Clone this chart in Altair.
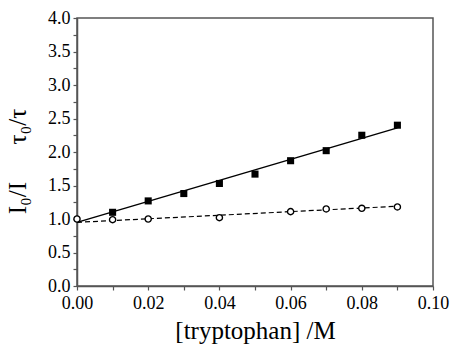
import altair as alt
import pandas as pd

# data
conc_tau = [0.01, 0.02, 0.03, 0.04, 0.05, 0.06, 0.07, 0.08, 0.09]
tau_ratio = [1.10, 1.27, 1.38, 1.53, 1.67, 1.87, 2.02, 2.25, 2.40]
conc_I = [0.00, 0.01, 0.02, 0.04, 0.06, 0.07, 0.08, 0.09]
I_ratio = [1.00, 0.99, 1.00, 1.02, 1.11, 1.15, 1.16, 1.18]
fit_x = [0.0, 0.09]
fit_tau = [0.95, 2.36]
fit_I = [0.95, 1.19]
x_ticks = [round(i * 0.01, 2) for i in range(11)]
y_ticks = [i * 0.25 for i in range(17)]

sq = pd.DataFrame({"x": conc_tau, "y": tau_ratio})
ci = pd.DataFrame({"x": conc_I, "y": I_ratio})
ft = pd.DataFrame({"x": fit_x, "y": fit_tau})
fi = pd.DataFrame({"x": fit_x, "y": fit_I})

FONT = "Liberation Serif"
AX = "#555555"

common = dict(
    grid=False,
    labelFlush=False,
    labelFont=FONT,
    labelFontSize=18,
    labelColor="black",
    titleFont=FONT,
    titleFontSize=25,
    titleFontWeight="normal",
    titleColor="black",
    domainColor=AX,
    domainWidth=1.5,
    tickColor=AX,
    tickWidth=1.2,
    tickSize=4,
)

xscale = alt.Scale(domain=[0, 0.1], nice=False, zero=False)
yscale = alt.Scale(domain=[0, 4], nice=False)

xaxis = alt.Axis(
    values=x_ticks,
    labelExpr="round(datum.value*100) % 2 == 0 ? format(datum.value, '.2f') : ''",
    title="[tryptophan] /M",
    labelPadding=4,
    titlePadding=6,
    **common,
)
yaxis = alt.Axis(
    values=y_ticks,
    labelExpr="round(datum.value*4) % 2 == 0 ? format(datum.value, '.1f') : ''",
    title="I\u2080/I\u00a0\u00a0\u00a0\u00a0\u00a0\u00a0\u03c4\u2080/\u03c4",
    titleAngle=270,
    titleX=-47,
    titleY=143,
    labelPadding=3,
    **common,
)

X = alt.X("x:Q", scale=xscale, axis=xaxis)
Y = alt.Y("y:Q", scale=yscale, axis=yaxis)

line_tau = alt.Chart(ft).mark_line(color="black", strokeWidth=1.5).encode(x=X, y=Y)
line_I = alt.Chart(fi).mark_line(color="black", strokeWidth=1.2, strokeDash=[5, 3]).encode(x=X, y=Y)
pts_sq = alt.Chart(sq).mark_point(shape="square", filled=True, color="black", size=50, opacity=1).encode(x=X, y=Y)
pts_ci = alt.Chart(ci).mark_point(shape="circle", filled=True, fill="white", stroke="black",
                                  strokeWidth=1.4, size=38, opacity=1).encode(x=X, y=Y)

chart = (
    alt.layer(line_tau, line_I, pts_sq, pts_ci)
    .properties(
        width=356,
        height=268,
        autosize=alt.AutoSizeParams(type="none"),
        padding={"left": 77, "top": 18, "right": 18, "bottom": 61},
    )
    .configure(font=FONT)
    .configure_view(stroke=AX, strokeWidth=1.5)
)

chart.save("out.html", embed_options={"renderer": "svg", "actions": False})
